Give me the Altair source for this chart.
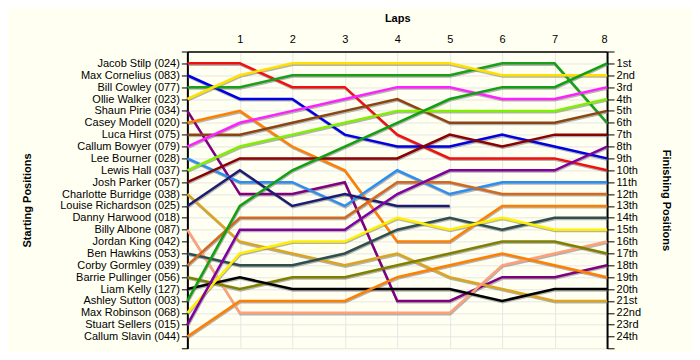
import altair as alt
import pandas as pd

# Starting grid labels (positions 1..24)
start_labels = [
    "Jacob Stilp (024)", "Max Cornelius (083)", "Bill Cowley (077)", "Ollie Walker (023)",
    "Shaun Pirie (034)", "Casey Modell (020)", "Luca Hirst (075)", "Callum Bowyer (079)",
    "Lee Bourner (028)", "Lewis Hall (037)", "Josh Parker (057)", "Charlotte Burridge (038)",
    "Louise Richardson (025)", "Danny Harwood (018)", "Billy Albone (087)", "Jordan King (042)",
    "Ben Hawkins (053)", "Corby Gormley (039)", "Barrie Pullinger (056)", "Liam Kelly (127)",
    "Ashley Sutton (003)", "Max Robinson (068)", "Stuart Sellers (015)", "Callum Slavin (044)",
]
finish_labels = [
    "1st", "2nd", "3rd", "4th", "5th", "6th", "7th", "8th", "9th", "10th", "11th", "12th",
    "13th", "14th", "15th", "16th", "17th", "18th", "19th", "20th", "21st", "22nd", "23rd", "24th",
]
laps = [0, 1, 2, 3, 4, 5, 6, 7, 8]

# positions at laps 0..8 (None = retired)
drivers = [
    "Jacob Stilp", "Max Cornelius", "Bill Cowley", "Ollie Walker", "Shaun Pirie",
    "Casey Modell", "Luca Hirst", "Callum Bowyer", "Lee Bourner", "Lewis Hall",
    "Josh Parker", "Charlotte Burridge", "Louise Richardson", "Billy Albone",
    "Ben Hawkins", "Corby Gormley", "Barrie Pullinger", "Liam Kelly",
    "Ashley Sutton", "Max Robinson", "Stuart Sellers", "Callum Slavin",
]
positions = [
    [1, 1, 3, 3, 7, 9, 9, 9, 10],
    [2, 4, 4, 7, 8, 8, 7, 8, 9],
    [3, 3, 2, 2, 2, 2, 1, 1, 6],
    [4, 2, 1, 1, 1, 1, 2, 2, 2],
    [5, 12, 12, 11, 21, 21, 19, 19, 18],
    [6, 5, 8, 10, 16, 16, 13, 13, 13],
    [7, 7, 6, 5, 4, 6, 6, 6, 5],
    [8, 6, 5, 4, 3, 3, 4, 4, 3],
    [9, 11, 11, 13, 10, 12, 11, 11, 11],
    [10, 8, 7, 6, 5, 5, 5, 5, 4],
    [11, 9, 9, 9, 9, 7, 8, 7, 7],
    [12, 16, 17, 18, 17, 19, 20, 21, 21],
    [13, 10, 13, 12, 13, 13, None, None, None],
    [15, 22, 22, 22, 22, 22, 18, 17, 16],
    [17, 18, 18, 17, 15, 14, 15, 14, 14],
    [18, 14, 14, 14, 11, 11, 12, 12, 12],
    [19, 20, 19, 19, 18, 17, 16, 16, 17],
    [20, 19, 20, 20, 20, 20, 21, 20, 20],
    [21, 13, 10, 8, 6, 4, 3, 3, 1],
    [22, 17, 16, 16, 14, 15, 14, 15, 15],
    [23, 15, 15, 15, 12, 10, 10, 10, 8],
    [24, 21, 21, 21, 19, 18, 17, 18, 19],
]
colors = [
    "#f01010", "#0000e0", "#18a018", "#ffe000", "#800080",
    "#ff8000", "#8b4513", "#ff20ff", "#2a8ff0", "#80f000",
    "#8b0000", "#daa520", "#1c1c70", "#ffa07a",
    "#2f4f4f", "#d2691e", "#808000", "#000000",
    "#10a010", "#fff000", "#8000a0", "#ff7f00",
]

rows = []
for d, ps in zip(drivers, positions):
    for lap, p in zip(laps, ps):
        if p is not None:
            rows.append({"driver": d, "lap": lap, "pos": p})
df = pd.DataFrame(rows)

ticks = list(range(0, 26))
left_expr = "[''," + ",".join("'" + s + "'" for s in start_labels) + ",''][datum.value]"
right_expr = "[''," + ",".join("'" + s + "'" for s in finish_labels) + ",''][datum.value]"

yscale = alt.Scale(domain=[0, 25], reverse=True, nice=False, zero=False)
xscale = alt.Scale(domain=[0, 8], nice=False, zero=False)

xaxis = alt.Axis(
    orient="top", values=laps, labelExpr="datum.value == 0 ? '' : datum.value",
    title="Laps", titleFontWeight="bold", titleFontSize=11, titleX=210, titleY=-33,
    titleBaseline="middle", ticks=False, labelPadding=7, labelFontSize=11,
    grid=True, gridColor="#e6e6e6", domainColor="#000", domainWidth=1.5,
    labelColor="#000", labelFont="Liberation Sans", titleFont="Liberation Sans",
    labelAngle=0,
)

base = alt.Chart(df)

shadow = base.mark_line(strokeWidth=2.5, color="#777777", opacity=0.55, yOffset=1.3, xOffset=0.6).encode(
    x=alt.X("lap:Q", scale=xscale, axis=xaxis),
    y=alt.Y("pos:Q", scale=yscale, axis=None),
    detail="driver:N",
)

lines = base.mark_line(strokeWidth=2.5).encode(
    x=alt.X("lap:Q", scale=xscale, axis=xaxis),
    y=alt.Y("pos:Q", scale=yscale, axis=alt.Axis(
        orient="left", values=ticks, labelExpr=left_expr, tickSize=6, labelPadding=2,
        title="Starting Positions", titleFontWeight="bold", titleFontSize=11,
        titleX=-160, titleY=148.6, titleBaseline="middle", titleAngle=-90,
        grid=True, gridColor="#e6e6e6", domainColor="#000", domainWidth=2,
        tickColor="#000", labelFontSize=11, labelColor="#000",
        labelFont="Liberation Sans", titleFont="Liberation Sans",
    )),
    color=alt.Color("driver:N", scale=alt.Scale(domain=drivers, range=colors), legend=None),
)

right = base.mark_line(opacity=0).encode(
    x=alt.X("lap:Q", scale=xscale, axis=xaxis),
    y=alt.Y("pos:Q", scale=yscale, axis=alt.Axis(
        orient="right", values=ticks, labelExpr=right_expr, tickSize=7, labelPadding=2,
        title="Finishing Positions", titleFontWeight="bold", titleFontSize=11,
        titleX=58.5, titleY=148.6, titleBaseline="middle", titleAngle=90,
        grid=False, domainColor="#000", domainWidth=2,
        tickColor="#000", labelFontSize=11, labelColor="#000",
        labelFont="Liberation Sans", titleFont="Liberation Sans",
    )),
    detail="driver:N",
)

chart = alt.layer(shadow, lines, right).resolve_scale(y="independent").properties(
    width=420, height=297.2,
    autosize=alt.AutoSizeParams(type="none"),
    padding={"left": 179.5, "top": 43.4, "right": 85, "bottom": 3},
    background="#fffff2",
).configure_view(stroke=None, fill="#fffff2")

chart.save("out.html", embed_options={"renderer": "svg", "actions": False})
